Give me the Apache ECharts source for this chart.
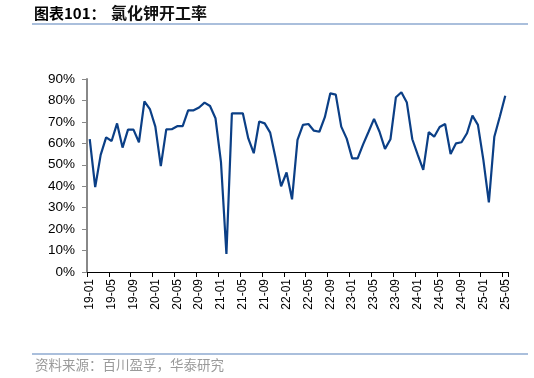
<!DOCTYPE html>
<html>
<head>
<meta charset="utf-8">
<script src="https://cdn.jsdelivr.net/npm/echarts@6/dist/echarts.min.js"></script>
<style>
html,body{margin:0;padding:0;background:#fff;}
#c{width:534px;height:378px;}
</style>
</head>
<body>
<div id="c"></div>
<script>
const categories = [];
for (let y = 19; y <= 25; y++) {
  for (let m = 1; m <= 12; m++) {
    if (y === 25 && m > 5) break;
    categories.push(y + '-' + (m < 10 ? '0' + m : '' + m));
  }
}
const operatingRate = [
  62.0, 39.6, 54.6, 62.8, 61.1, 69.3, 58.0, 66.4, 66.4, 60.5, 79.6, 76.0,
  67.8, 49.4, 66.5, 66.6, 68.0, 68.0, 75.4, 75.4, 76.7, 79.0, 77.4, 71.7,
  51.4, 8.4, 74.0, 74.0, 74.0, 62.3, 55.4, 70.2, 69.3, 65.0, 53.0, 40.0,
  46.4, 33.9, 61.6, 68.6, 69.0, 65.9, 65.4, 72.2, 83.3, 82.7, 67.8, 62.2,
  53.0, 53.0, 59.5, 65.4, 71.4, 65.4, 57.4, 61.9, 81.5, 83.8, 79.0, 61.9,
  54.6, 47.6, 65.2, 63.1, 67.6, 69.0, 55.0, 60.0, 60.5, 64.7, 72.9, 68.6,
  52.2, 32.5, 63.1, 72.4, 82.2
];
const titlePrefix = '图表101：';
const titleMain = '氯化钾开工率';
const sourceText = '资料来源：百川盈孚，华泰研究';

const chart = echarts.init(document.getElementById('c'), null, {renderer: 'canvas'});
chart.setOption({
  animation: false,
  backgroundColor: '#fff',
  grid: {left: 87, right: 26, top: 79, bottom: 106, containLabel: false},
  xAxis: {
    type: 'category',
    data: categories,
    boundaryGap: true,
    axisLine: {lineStyle: {color: '#000', width: 1}},
    axisTick: {show: true, interval: 3, length: 5, lineStyle: {color: '#000'}},
    axisLabel: {interval: 3, rotate: 90, fontSize: 12, color: '#000',
      fontFamily: 'Liberation Sans, Arial, sans-serif', margin: 7},
    splitLine: {show: false}
  },
  yAxis: {
    type: 'value',
    min: 0, max: 90, interval: 10,
    axisLine: {show: true, lineStyle: {color: '#888', width: 2}},
    axisTick: {show: true, length: 5, lineStyle: {color: '#888'}},
    axisLabel: {formatter: '{value}%', fontSize: 13.5, color: '#000',
      fontFamily: 'Liberation Sans, Arial, sans-serif', margin: 12},
    splitLine: {show: false}
  },
  series: [{
    type: 'line',
    data: operatingRate,
    symbol: 'none',
    lineStyle: {color: '#0b3f86', width: 2.2},
    itemStyle: {color: '#0b3f86'}
  }],
  graphic: [
    {type: 'text', left: 34, top: 5,
      style: {
        text: '{a|' + titlePrefix + '}{b|' + titleMain + '}',
        rich: {
          a: {fontSize: 15, fontWeight: 'bold', fill: '#000', color: '#000',
            fontFamily: '"Noto Sans CJK SC", sans-serif', width: 77},
          b: {fontSize: 16, fontWeight: 'bold', fill: '#111', color: '#111',
            fontFamily: '"Noto Sans CJK SC", sans-serif'}
        }
      }},
    {type: 'line', shape: {x1: 32, y1: 24, x2: 528, y2: 24},
      style: {stroke: '#8eaad0', lineWidth: 1.5}},
    {type: 'line', shape: {x1: 32, y1: 354, x2: 528, y2: 354},
      style: {stroke: '#8eaad0', lineWidth: 1.5}},
    {type: 'text', left: 35, top: 358,
      style: {text: sourceText, fill: '#9a9a9a',
        font: '13.5px "Noto Sans CJK SC", sans-serif'}}
  ]
});
</script>
</body>
</html>
